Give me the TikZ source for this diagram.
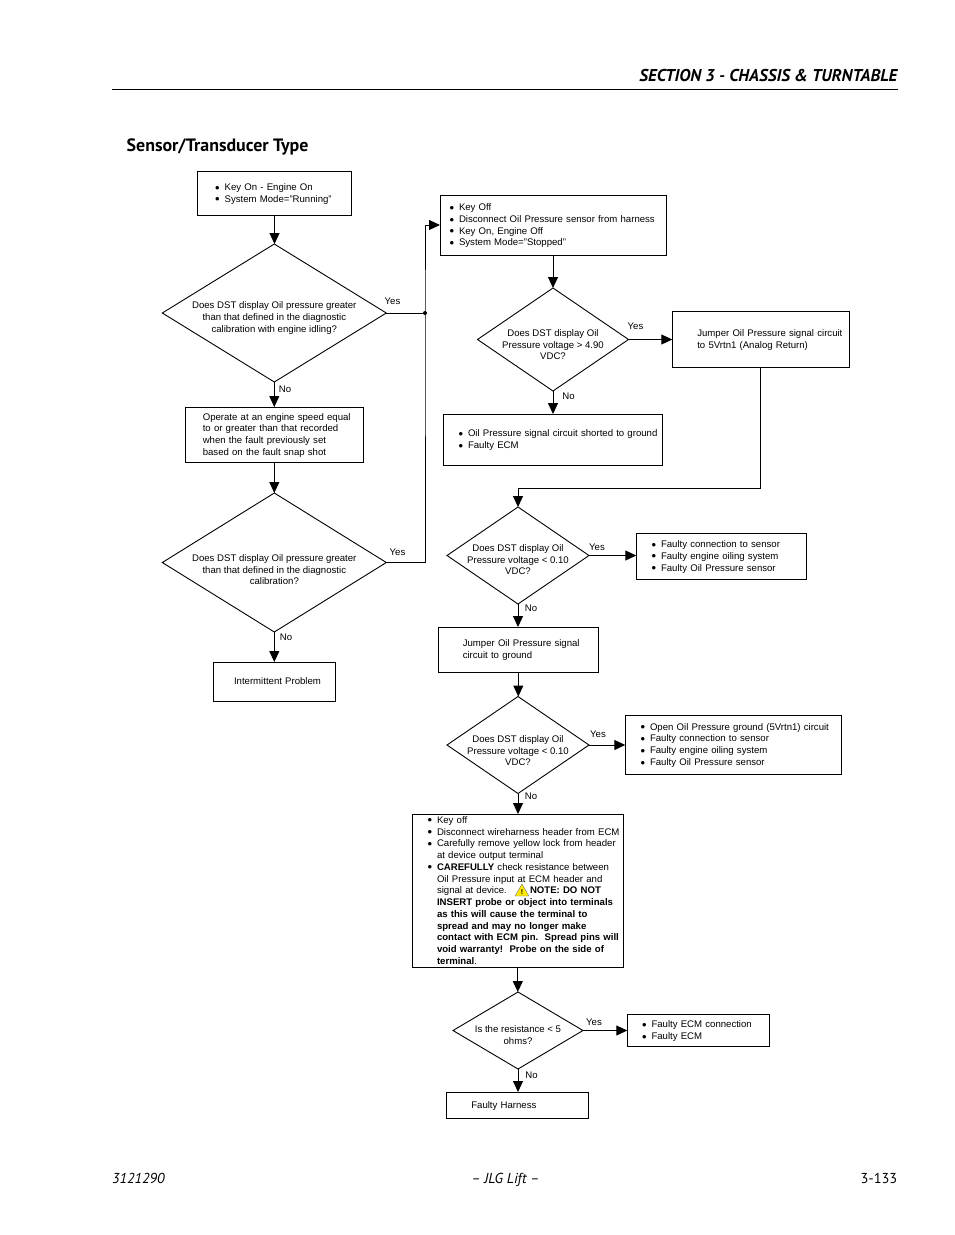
\documentclass[tikz,border=0pt]{standalone}
\usepackage{fontspec}
\setmainfont{Liberation Sans}
\newfontfamily\pagefont{PT Sans}
\usetikzlibrary{arrows.meta,shapes.geometric}
\tikzset{>={Triangle[length=11pt,width=10pt]}}
\tikzset{
  box/.style 2 args={draw, rectangle, anchor=north west, inner sep=0pt, outer sep=0pt, line width=0.9pt,
    minimum width=#1, minimum height=#2, text width=#1, align=left, font=\fontsize{9.6}{11.75}\selectfont},
  decision/.style 2 args={draw, diamond, inner sep=0pt, outer sep=0pt, line width=0.9pt,
    minimum width=#1, minimum height=#2, font=\fontsize{9.6}{11.6}\selectfont},
  flow/.style={line width=1pt},
  answer/.style={inner sep=0pt, font=\fontsize{9.6}{11}\selectfont},
  warning/.style={regular polygon, regular polygon sides=3, minimum size=16pt, inner sep=0pt,
    draw=black!55, fill=yellow!90!orange, line join=round},
  joint/.style={circle, fill=black, inner sep=0pt, minimum size=4pt}
}
\newcommand{\boxtext}[2]{\hspace*{#1pt}\raisebox{-1pt}[\height][\depth]{\begin{tabular}{@{}l@{}}#2\end{tabular}}}
\newcommand{\qtext}[2]{\raisebox{-#1pt}[0pt][0pt]{\makebox[0pt]{\begin{tabular}{@{}c@{}}#2\end{tabular}}}}
\newcommand{\itm}{\makebox[8pt][l]{\hspace*{-1.5pt}\raisebox{-1.6pt}{\scalebox{1.35}{\textbullet}}}}
\begin{document}
\begin{tikzpicture}[x=1pt,y=-1pt]
  \useasboundingbox (0,0) rectangle (954,1235);
  % page furniture
  \node[inner sep=0pt, anchor=base east, font=\pagefont\fontsize{17.1}{18}\selectfont\bfseries\itshape] (section) at (897.5,81) {SECTION 3 - CHASSIS \& TURNTABLE};
  \draw[line width=1.1pt] (112,89.5) -- (897.5,89.5);
  \node[inner sep=0pt, anchor=base west, font=\pagefont\fontsize{17.9}{18}\selectfont\bfseries] (title) at (126.5,151) {Sensor/Transducer Type};
  \node[inner sep=0pt, anchor=base west, font=\pagefont\fontsize{14.4}{16}\selectfont\itshape] (partno) at (112,1183) {3121290};
  \node[inner sep=0pt, anchor=base, font=\pagefont\fontsize{14.4}{16}\selectfont\itshape] (brand) at (505.5,1183) {\textendash{} JLG Lift \textendash};
  \node[inner sep=0pt, anchor=base east, font=\pagefont\fontsize{14.4}{16}\selectfont] (pageno) at (897.5,1183) {3-133};

  % left column
  \node[box={154pt}{44pt}] (keyon) at (197.5,171) {\boxtext{19.2}{\itm Key On - Engine On\\ \itm System Mode="Running"}};
  \node[decision={224pt}{138pt}] (idle) at (274.3,313) {\qtext{7.7}{Does DST display Oil pressure greater\\ than that defined in the diagnostic\\ calibration with engine idling?}};
  \node[box={178pt}{55pt}] (operate) at (185.3,407) {\boxtext{17.5}{Operate at an engine speed equal\\ to or greater than that recorded\\ when the fault previously set\\ based on the fault snap shot}};
  \node[decision={224pt}{139pt}] (calib) at (274.3,562.5) {\qtext{10.7}{Does DST display Oil pressure greater\\ than that defined in the diagnostic\\ calibration?}};
  \node[box={122pt}{39pt}] (interm) at (213,662) {\boxtext{21}{Intermittent Problem}};

  % right column
  \node[box={226pt}{60pt}] (keyoff) at (440,195) {\boxtext{11}{\itm Key Off\\ \itm Disconnect Oil Pressure sensor from harness\\ \itm Key On, Engine Off\\ \itm System Mode="Stopped"}};
  \node[decision={151pt}{103pt}] (high) at (553,339.5) {\qtext{8.7}{Does DST display Oil\\ Pressure voltage > 4.90\\ VDC?}};
  \node[box={177pt}{56pt}] (jumpret) at (672.3,311) {\boxtext{25}{Jumper Oil Pressure signal circuit\\ to 5Vrtn1 (Analog Return)}};
  \node[box={219pt}{51pt}] (shorted) at (443.3,414) {\boxtext{16.7}{\itm Oil Pressure signal circuit shorted to ground\\ \itm Faulty ECM}};
  \node[decision={142pt}{97pt}] (lowa) at (518,555.5) {\qtext{7.7}{Does DST display Oil\\ Pressure voltage < 0.10\\ VDC?}};
  \node[box={170pt}{46pt}] (faultsa) at (636.3,533) {\boxtext{16.7}{\itm Faulty connection to sensor\\ \itm Faulty engine oiling system\\ \itm Faulty Oil Pressure sensor}};
  \node[box={160pt}{45pt}] (jumpgnd) at (438.3,627) {\boxtext{24.5}{Jumper Oil Pressure signal\\ circuit to ground}};
  \node[decision={142pt}{97pt}] (lowb) at (518,745) {\qtext{9.2}{Does DST display Oil\\ Pressure voltage < 0.10\\ VDC?}};
  \node[box={216pt}{59pt}] (faultsb) at (625.3,715) {\boxtext{16.7}{\itm Open Oil Pressure ground (5Vrtn1) circuit\\ \itm Faulty connection to sensor\\ \itm Faulty engine oiling system\\ \itm Faulty Oil Pressure sensor}};
  \node[box={211pt}{153pt}] (check) at (412.3,814) {\boxtext{16.7}{\itm Key off\\ \itm Disconnect wireharness header from ECM\\ \itm Carefully remove yellow lock from header\\ \hspace*{8pt}at device output terminal\\ \itm \textbf{CAREFULLY} check resistance between\\ \hspace*{8pt}Oil Pressure input at ECM header and\\ \hspace*{8pt}\makebox[93pt][l]{signal at device.}\textbf{NOTE: DO NOT}\\ \hspace*{8pt}\textbf{INSERT probe or object into terminals}\\ \hspace*{8pt}\textbf{as this will cause the terminal to}\\ \hspace*{8pt}\textbf{spread and may no longer make}\\ \hspace*{8pt}\textbf{contact with ECM pin.\ \ Spread pins will}\\ \hspace*{8pt}\textbf{void warranty!\ \ Probe on the side of}\\ \hspace*{8pt}\textbf{terminal}.}};
  \node[warning] (caution) at (522,892) {\fontsize{7}{7}\selectfont\textbf{!}};
  \node[decision={130pt}{77pt}] (resist) at (518,1030.5) {\qtext{8.2}{Is the resistance < 5\\ ohms?}};
  \node[box={142pt}{32pt}] (faultsc) at (627.3,1014.5) {\boxtext{16.2}{\itm Faulty ECM connection\\ \itm Faulty ECM}};
  \node[box={142pt}{26pt}] (harness) at (446.3,1092) {\boxtext{25}{Faulty Harness}};

  % connectors
  \foreach \from/\to in {keyon/idle, idle/operate, operate/calib, calib/interm, keyoff/high, high/shorted, lowa/jumpgnd, jumpgnd/lowb, lowb/check, check/resist, resist/harness}
    \draw[flow,->] (\from.south) -- (\from.south |- \to.north);
  \foreach \from/\to in {high/jumpret, lowa/faultsa, lowb/faultsb, resist/faultsc}
    \draw[flow,->] (\from.east) -- (\from.east -| \to.west);
  \node[joint] (tee) at (425,313) {};
  \draw[flow] (idle.east) -- (tee.center);
  \draw[flow,->] (calib.east) -| (tee.center) |- (keyoff.west);
  \coordinate (bend) at (lowa.north |- 0,488.5);
  \draw[flow,->] (jumpret.south) |- (bend) -- (lowa.north);

  % answers
  \node[answer] (yesa) at (392.5,301) {Yes};
  \node[answer] (noa) at (285,389.5) {No};
  \node[answer] (yesb) at (397.5,552.5) {Yes};
  \node[answer] (nob) at (286,637) {No};
  \node[answer] (yesc) at (635.5,326) {Yes};
  \node[answer] (noc) at (568.5,396.5) {No};
  \node[answer] (yesd) at (597,547) {Yes};
  \node[answer] (nod) at (531,608.5) {No};
  \node[answer] (yese) at (598,734) {Yes};
  \node[answer] (noe) at (531,796.5) {No};
  \node[answer] (yesf) at (594,1022) {Yes};
  \node[answer] (nof) at (531.5,1075.5) {No};
\end{tikzpicture}
\end{document}
